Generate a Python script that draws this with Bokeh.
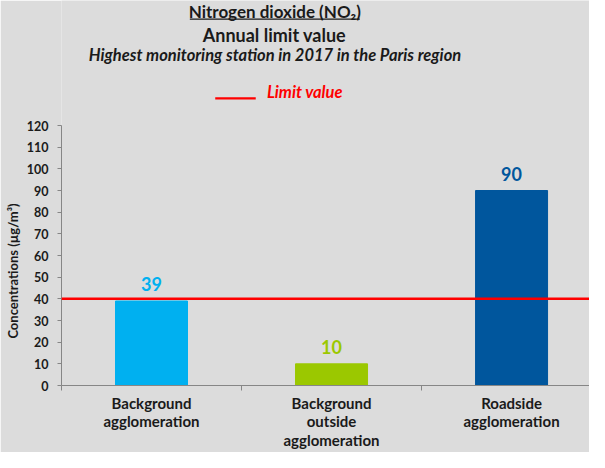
from bokeh.plotting import figure
from bokeh.models import Range1d, FixedTicker, Label, LabelSet, Span, BoxAnnotation, ColumnDataSource
from bokeh.core.properties import value
from bokeh.embed import file_html
from bokeh.resources import INLINE

# ---- data ----
categories = ["Background\nagglomeration", "Background\noutside\nagglomeration", "Roadside\nagglomeration"]
concentrations = [39, 10, 90]
bar_colors = ["#00B0F0", "#9BC800", "#00569D"]
limit_value = 40
y_ticks = [0, 10, 20, 30, 40, 50, 60, 70, 80, 90, 100, 110, 120]

FONT = "Lato"
BG = "#DCDCDC"
TXT = "#1A1A1A"

xs = [i + 0.5 for i in range(len(categories))]
src = ColumnDataSource(dict(x=xs, value=concentrations, color=bar_colors,
                            label=[str(v) for v in concentrations]))

# the plotting frame also covers the title area; the y axis is bounded to 0..120
p = figure(width=589, height=452, x_range=Range1d(0, 2.933), y_range=Range1d(0, 177.7),
           output_backend="svg", toolbar_location=None,
           min_border_left=61, min_border_right=0, min_border_top=0, min_border_bottom=67)
p.background_fill_color = BG
p.border_fill_color = BG
p.outline_line_color = None
p.xgrid.grid_line_color = None
p.ygrid.grid_line_color = None

# y axis
yax = p.yaxis[0]
yax.ticker = FixedTicker(ticks=y_ticks)
yax.bounds = (y_ticks[0], y_ticks[-1])
yax.axis_line_color = "#868686"
yax.major_tick_line_color = "#868686"
yax.minor_tick_line_color = None
yax.major_tick_in = 0
yax.major_tick_out = 4
yax.major_label_standoff = 9
yax.major_label_text_font = FONT
yax.major_label_text_font_style = "bold"
yax.major_label_text_font_size = "12.5px"
yax.major_label_text_color = TXT
# trailing em spaces move the label down to the middle of the 0..120 axis
yax.axis_label = "Concentrations (µg/m³)" + "\u2003" * 16
yax.axis_label_text_font = FONT
yax.axis_label_text_font_style = "bold"
yax.axis_label_text_font_size = "13px"
yax.axis_label_text_color = TXT
yax.axis_label_standoff = 3

# x axis
xax = p.xaxis[0]
xax.ticker = FixedTicker(ticks=xs, minor_ticks=list(range(len(categories) + 1)))
xax.major_label_overrides = {x: c for x, c in zip(xs, categories)}
xax.axis_line_color = "#868686"
xax.major_tick_line_color = None
xax.major_tick_in = 0
xax.major_tick_out = 0
xax.minor_tick_line_color = "#868686"
xax.minor_tick_in = 0
xax.minor_tick_out = 5
xax.major_label_standoff = 3
xax.major_label_text_font = FONT
xax.major_label_text_font_style = "bold"
xax.major_label_text_font_size = "15px"
xax.major_label_text_line_height = 1.05
xax.major_label_text_color = TXT

# bars
p.vbar(x="x", top="value", width=0.4, color="color", source=src)
p.add_layout(LabelSet(x="x", y="value", text="label", text_color="color", source=src,
                      text_align="center", text_baseline="alphabetic", y_offset=10,
                      text_font=value(FONT), text_font_style="bold", text_font_size="18px"))

# limit value line
p.add_layout(Span(location=limit_value, dimension="width", line_color="#FF0000", line_width=2.5))

# titles
def lab(text, x, y, size, style, color=TXT, align="center"):
    p.add_layout(Label(text=text, x=x, y=y,
                       text_font=FONT, text_font_size=size, text_font_style=style,
                       text_color=color, text_align=align, text_baseline="middle"))

lab("Nitrogen dioxide (NO₂)", 1.185, 172.6, "17px", "bold")
p.add_layout(BoxAnnotation(left=0.713, right=1.657, bottom=168.8, top=169.4,
                           fill_color=TXT, fill_alpha=1, line_color=None))
lab("Annual limit value", 1.183, 161.9, "18px", "bold")
lab("Highest monitoring station in 2017 in the Paris region", 1.186, 152.6, "16.5px", "bold italic")
lab("Limit value", 1.141, 135.5, "16.5px", "bold italic", color="#FF0000", align="left")
p.add_layout(BoxAnnotation(left=0.854, right=1.079, bottom=132.0, top=133.0,
                           fill_color="#FF0000", fill_alpha=1, line_color=None))

open("out.html", "w").write(file_html(p, INLINE))
